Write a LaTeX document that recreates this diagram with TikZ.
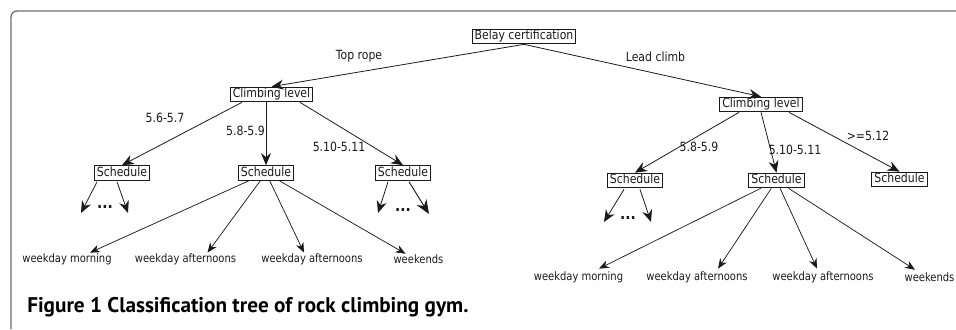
\documentclass[tikz,border=0pt]{standalone}
\usepackage{fontspec}
\usetikzlibrary{calc,arrows.meta,positioning}
\newfontfamily\diagfont{DejaVu Sans}[FakeStretch=0.86]
\newfontfamily\capfont{PT Sans}
\definecolor{cadre}{HTML}{6E6E6E}
\definecolor{trait}{HTML}{1A1A1A}

\tikzset{
	boite/.style={draw=trait, line width=0.75pt, text=trait, font=\diagfont\fontsize{9.5}{11}\selectfont,
		inner xsep=2pt, inner ysep=0.9pt, text height=7.1pt, text depth=2.1pt},
	etiq/.style={text=trait, font=\diagfont\fontsize{9.5}{11}\selectfont, inner sep=0pt},
	feuille/.style={text=trait, font=\diagfont\fontsize{8.7}{10}\selectfont, inner sep=0pt},
	points/.style={text=trait, font=\diagfont\bfseries\fontsize{12}{13}\selectfont, inner sep=0pt, anchor=base},
	fleche/.style={draw=trait, line width=0.6pt, -{Stealth[length=9pt,width=7.5pt]}},
	flechepetite/.style={draw=trait, line width=0.55pt, -{Stealth[length=7.5pt,width=6pt]}},
	flechegrosse/.style={draw=trait, line width=0.7pt, -{Stealth[length=10.5pt,width=8.5pt]}},
}

\begin{document}
\begin{tikzpicture}[x=0.75pt,y=-0.75pt]
		% cadre de la figure (coin arrondi en haut a gauche)
		\useasboundingbox (0,0) rectangle (956,329);
		\draw[cadre, line width=1pt, rounded corners=4.5pt] (956,11) -- (11,11) -- (11,329);

		% racine et premier niveau
		\node[boite] (belay) at (524,36.5) {Belay certification};
		\node[boite] (clA) at (271.5,94.5) {Climbing level};
		\node[boite] (clB) at (761,104.5) {Climbing level};
		\draw[fleche] (belay.south) -- (clA.north);
		\draw[fleche] (belay.south) -- (clB.north);
		\node[etiq] (toprope) at (359,56) {Top rope};
		\node[etiq] (leadclimb) at (655.5,57) {Lead climb};

		% niveaux de difficulte -> horaires
		\node[boite] (schA) at (122,173) {Schedule};
		\node[boite] (schB) at (266,173) {Schedule};
		\node[boite] (schC) at (403,173) {Schedule};
		\node[boite] (schD) at (635,180.5) {Schedule};
		\node[boite] (schE) at (776.5,180.5) {Schedule};
		\node[boite] (schF) at (899.5,179.5) {Schedule};

		\draw[fleche] ($(clA.south)+(-29.5,0)$) -- (schA.north);
		\draw[fleche] (schB.north |- clA.south) -- (schB.north);
		\draw[fleche] ($(clA.south)+(28.5,0)$) -- (schC.north);
		\draw[fleche] ($(clB.south)+(-22,0)$) -- (schD.north);
		\draw[fleche] (clB.south) -- (schE.north);
		\draw[fleche] ($(clB.south)+(28,0)$) -- (schF.north);

		\node[etiq] (gA) at (165,118) {5.6-5.7};
		\node[etiq] (gB) at (245.5,131) {5.8-5.9};
		\node[etiq] (gC) at (339,147) {5.10-5.11};
		\node[etiq] (gD) at (699,147) {5.8-5.9};
		\node[etiq] (gE) at (795,150) {5.10-5.11};
		\node[etiq] (gF) at (868,136) {>=5.12};

		% branches non detaillees
		\coordinate (bA1) at (81,213);
		\coordinate (bA2) at (128,213);
		\coordinate (bC1) at (378,213);
		\coordinate (bC2) at (429,214);
		\coordinate (bD1) at (604,222);
		\coordinate (bD2) at (651,222);
		\draw[fleche] ($(schA.south)+(-25,1)$) -- (bA1);
		\draw[fleche] ($(schA.south)+(-5,1)$) -- (bA2);
		\draw[fleche] ($(schC.south)+(-15,1)$) -- (bC1);
		\draw[flechegrosse] ($(schC.south)+(6,1)$) -- (bC2);
		\draw[fleche] ($(schD.south)+(-11,1)$) -- (bD1);
		\draw[fleche] ($(schD.south)+(5,1)$) -- (bD2);
		\node[points] (pA) at (105,208) {...};
		\node[points] (pC) at (403,211) {...};
		\node[points] (pD) at (628,219) {...};

		% feuilles : creneaux horaires
		\foreach \nom/\x/\txt/\dx in {fA/67/weekday morning/23, fB/185.5/weekday afternoons/22,
			fC/312/weekday afternoons/-8, fD/418.5/weekends/-13}{%
			\node[feuille] (\nom) at (\x,259.5) {\txt};
			\draw[flechepetite] (schB) -- ($(\nom.north)+(\dx,-1)$);
		}
		\foreach \nom/\x/\txt/\dx in {fE/578.5/weekday morning/20.5, fF/697/weekday afternoons/21,
			fG/823/weekday afternoons/-6, fH/929.5/weekends/-14.5}{%
			\node[feuille] (\nom) at (\x,277.5) {\txt};
			\draw[flechepetite] (schE) -- ($(\nom.north)+(\dx,-3)$);
		}

		% legende
		\node[anchor=west, inner sep=0pt, text=black, font=\capfont\bfseries\fontsize{15.9}{18}\selectfont] (legende) at (27,307)
			{Figure 1 Classification tree of rock climbing gym.};
	\end{tikzpicture}
\end{document}
